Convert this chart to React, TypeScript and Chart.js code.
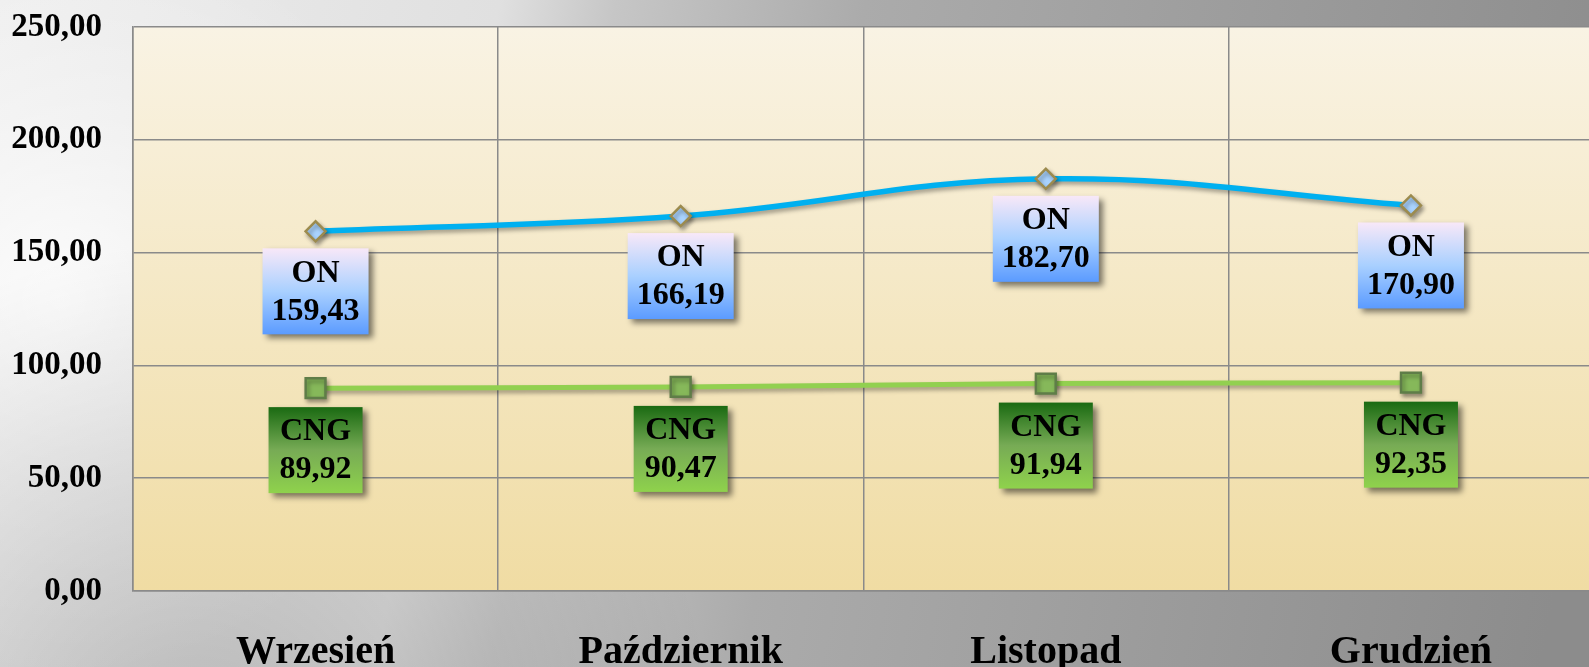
import React, { useEffect, useRef } from "react";
import { Chart, registerables } from "chart.js";

Chart.register(...registerables);

const months = ["Wrzesień", "Październik", "Listopad", "Grudzień"];
const onValues = [159.43, 166.19, 182.7, 170.9];
const cngValues = [89.92, 90.47, 91.94, 92.35];
const seriesNames = ["ON", "CNG"];
const yMin = 0;
const yMax = 250;
const yStep = 50;

const CANVAS_W = 1610;
const CANVAS_H = 667;
const FONT = '"Liberation Serif", "Times New Roman", serif';

const fmt = (v: number) => v.toFixed(2).replace(".", ",");

const bgPlugin = {
  id: "bgPlugin",
  beforeDraw(chart: any) {
    const { ctx, width, height, chartArea } = chart;
    ctx.save();
    const g = ctx.createLinearGradient(0, 0, width, 300);
    g.addColorStop(0, "#eeeeee");
    g.addColorStop(0.3, "#e0e0e0");
    g.addColorStop(0.37, "#c6c6c6");
    g.addColorStop(0.52, "#ababab");
    g.addColorStop(1, "#8c8c8c");
    ctx.fillStyle = g;
    ctx.fillRect(0, 0, width, height);
    const r = ctx.createRadialGradient(60, 300, 0, 60, 300, 380);
    r.addColorStop(0, "rgba(255,255,255,0.8)");
    r.addColorStop(0.5, "rgba(255,255,255,0.35)");
    r.addColorStop(1, "rgba(255,255,255,0)");
    ctx.fillStyle = r;
    ctx.fillRect(0, 0, width, height);
    const d = ctx.createRadialGradient(200, 760, 0, 200, 760, 520);
    d.addColorStop(0, "rgba(0,0,0,0.2)");
    d.addColorStop(1, "rgba(0,0,0,0)");
    ctx.fillStyle = d;
    ctx.fillRect(0, 0, width, height);
    const p = ctx.createLinearGradient(0, chartArea.top, 0, chartArea.bottom);
    p.addColorStop(0, "#f9f3e4");
    p.addColorStop(1, "#f0dca3");
    ctx.fillStyle = p;
    ctx.fillRect(chartArea.left, chartArea.top, chartArea.right - chartArea.left, chartArea.bottom - chartArea.top);
    ctx.restore();
  },
};

const shadowPlugin = {
  id: "shadowPlugin",
  beforeDatasetDraw(chart: any) {
    const ctx = chart.ctx;
    ctx.save();
    ctx.shadowColor = "rgba(0,0,0,0.35)";
    ctx.shadowBlur = 4;
    ctx.shadowOffsetX = 2;
    ctx.shadowOffsetY = 3;
  },
  afterDatasetDraw(chart: any) {
    chart.ctx.restore();
  },
};

const boxStyles = [
  { top: "#f8e8f8", mid: "#a9d0ff", bottom: "#5b9bff", offset: 17, pad: 9 },
  { top: "#1a6a12", mid: "#77ab55", bottom: "#8fd24c", offset: 19, pad: 11 },
];

const labelPlugin = {
  id: "labelPlugin",
  afterDatasetsDraw(chart: any) {
    const ctx = chart.ctx;
    ctx.save();
    ctx.font = `bold 32px ${FONT}`;
    ctx.textAlign = "center";
    ctx.textBaseline = "middle";
    chart.data.datasets.forEach((ds: any, i: number) => {
      const meta = chart.getDatasetMeta(i);
      const st = boxStyles[i];
      meta.data.forEach((pt: any, j: number) => {
        const l1 = seriesNames[i];
        const l2 = fmt(ds.data[j]);
        const w = Math.max(ctx.measureText(l1).width, ctx.measureText(l2).width) + st.pad * 2;
        const h = 86;
        const x = pt.x - w / 2;
        const y = pt.y + st.offset;
        ctx.save();
        ctx.shadowColor = "rgba(0,0,0,0.5)";
        ctx.shadowBlur = 6;
        ctx.shadowOffsetX = 4;
        ctx.shadowOffsetY = 4;
        const g = ctx.createLinearGradient(0, y, 0, y + h);
        g.addColorStop(0, st.top);
        g.addColorStop(0.5, st.mid);
        g.addColorStop(1, st.bottom);
        ctx.fillStyle = g;
        ctx.fillRect(x, y, w, h);
        ctx.restore();
        ctx.fillStyle = "#000";
        ctx.fillText(l1, pt.x, y + 25);
        ctx.fillText(l2, pt.x, y + 63);
      });
    });
    ctx.restore();
  },
};

export default function App() {
  const ref = useRef<HTMLCanvasElement>(null);
  useEffect(() => {
    const canvas = ref.current!;
    canvas.width = CANVAS_W;
    canvas.height = CANVAS_H;
    const chart = new Chart(canvas, {
      type: "line",
      data: {
        labels: months,
        datasets: [
          {
            label: seriesNames[0],
            data: onValues,
            borderColor: "#00b0f0",
            borderWidth: 5.5,
            tension: 0.4,
            pointStyle: "rectRot",
            pointRadius: 10,
            pointBackgroundColor: "#aad4ff",
            pointBorderColor: "#9c8b4e",
            pointBorderWidth: 2.5,
          },
          {
            label: seriesNames[1],
            data: cngValues,
            borderColor: "#92d050",
            borderWidth: 5,
            tension: 0.4,
            pointStyle: "rect",
            pointRadius: 14,
            pointBackgroundColor: "#86b85a",
            pointBorderColor: "#5f7d48",
            pointBorderWidth: 2.5,
          },
        ],
      },
      options: {
        responsive: false,
        animation: false,
        events: [],
        layout: { padding: { top: 27, right: 5, left: 0, bottom: 0 } },
        plugins: { legend: { display: false }, tooltip: { enabled: false } },
        scales: {
          x: {
            offset: true,
            grid: { color: "#8a8a8a", lineWidth: 1.5, offset: true, drawTicks: false },
            border: { color: "#8a8a8a", width: 1.5 },
            ticks: {
              color: "#000",
              font: { family: FONT, size: 40, weight: "bold" },
              padding: 38,
              maxRotation: 0,
            },
            afterFit: (axis: any) => {
              axis.height = 76;
              axis.paddingLeft = 0;
              axis.paddingRight = 0;
            },
          },
          y: {
            min: yMin,
            max: yMax,
            grid: { color: "#8a8a8a", lineWidth: 1.5, drawTicks: false },
            border: { color: "#8a8a8a", width: 1.5 },
            ticks: {
              stepSize: yStep,
              color: "#000",
              font: { family: FONT, size: 33, weight: "bold" },
              padding: 31,
              callback: (v: any) => fmt(Number(v)),
            },
            afterFit: (axis: any) => {
              axis.width = 133;
              axis.paddingTop = 0;
              axis.paddingBottom = 0;
            },
          },
        },
      },
      plugins: [bgPlugin, shadowPlugin, labelPlugin],
    });
    return () => chart.destroy();
  }, []);
  return (
    <div style={{ position: "fixed", left: 0, top: 0, width: 1589, height: 667, overflow: "hidden" }}>
      <canvas ref={ref} style={{ display: "block", width: CANVAS_W, height: CANVAS_H }} />
    </div>
  );
}
